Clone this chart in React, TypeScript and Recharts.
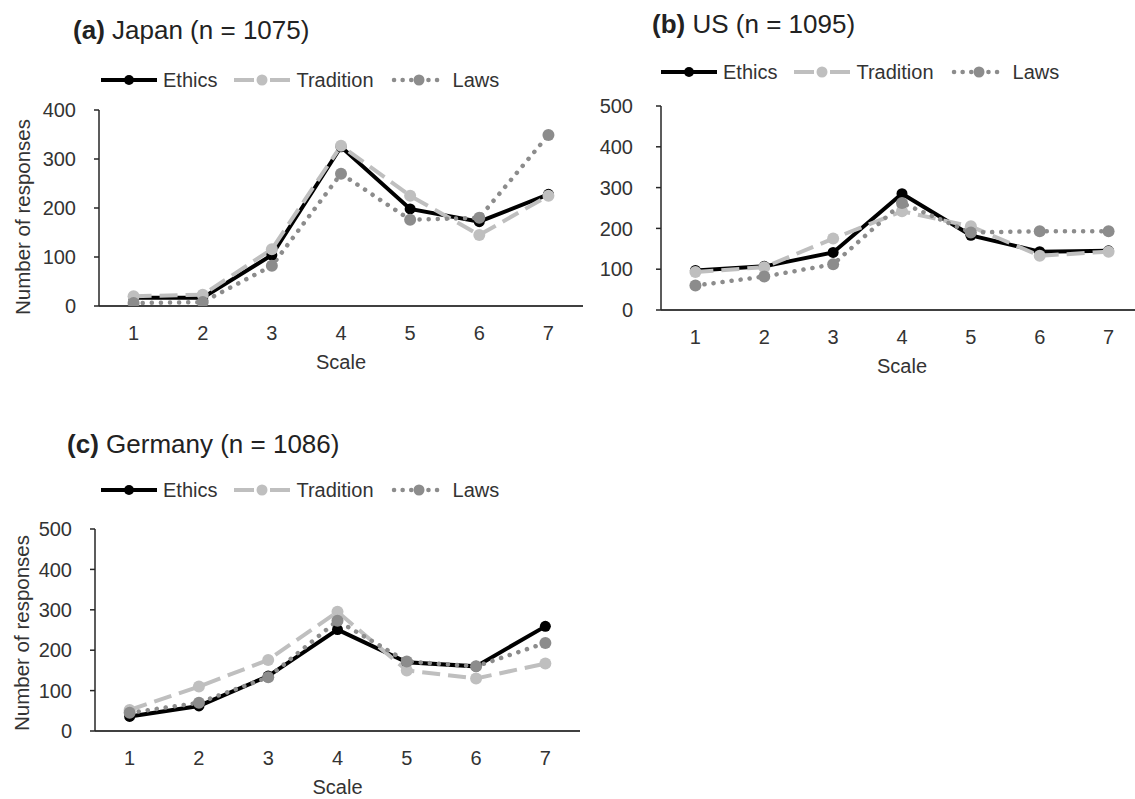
import React from 'react';
import { LineChart, Line, XAxis, YAxis } from 'recharts';

// scale points (1-7)
const scale = ['1', '2', '3', '4', '5', '6', '7'];

// (a) Japan
const ethicsJapan = [17, 17, 104, 325, 198, 172, 228];
const traditionJapan = [20, 23, 116, 327, 225, 145, 225];
const lawsJapan = [6, 8, 82, 270, 176, 180, 349];

// (b) US
const ethicsUS = [97, 107, 141, 285, 183, 143, 145];
const traditionUS = [93, 105, 175, 242, 205, 133, 143];
const lawsUS = [60, 82, 112, 262, 190, 193, 193];

// (c) Germany
const ethicsGermany = [36, 62, 136, 251, 170, 160, 259];
const traditionGermany = [52, 110, 176, 295, 150, 130, 167];
const lawsGermany = [45, 70, 133, 273, 172, 160, 218];

const ticksJapan = [0, 100, 200, 300, 400];
const ticksOther = [0, 100, 200, 300, 400, 500];

const FONT = '"Liberation Sans", Arial, sans-serif';
const TEXT = '#333333';

const series = [
  { key: 'ethics', name: 'Ethics', color: '#000000', width: 4, r: 5.5, dash: undefined as string | undefined },
  { key: 'tradition', name: 'Tradition', color: '#BFBFBF', width: 4, r: 6, dash: '18 8' },
  { key: 'laws', name: 'Laws', color: '#8C8C8C', width: 4.5, r: 6, dash: '0.1 9' },
];

type Cfg = {
  letter: string;
  country: string;
  n: number;
  left: number;
  top: number;
  width: number;
  height: number;
  plotLeft: number;
  plotRight: number;
  plotTop: number;
  plotBottom: number;
  tickGap: number;
  titleX: number;
  titleY: number;
  legendX: number;
  legendY: number;
  yLabel: boolean;
  yLabelX: number;
  yLabelY: number;
};

const X_AXIS_H = 60;

function LegendSymbol({ s }: { s: (typeof series)[number] }) {
  return (
    <svg width={56} height={14} style={{ display: 'block' }}>
      {s.key === 'ethics' && <line x1={0} x2={56} y1={7} y2={7} stroke={s.color} strokeWidth={4} />}
      {s.key === 'tradition' && (
        <>
          <line x1={0} x2={20} y1={7} y2={7} stroke={s.color} strokeWidth={4} />
          <line x1={36} x2={56} y1={7} y2={7} stroke={s.color} strokeWidth={4} />
        </>
      )}
      {s.key === 'laws' && (
        <line x1={3} x2={54} y1={7} y2={7} stroke={s.color} strokeWidth={4.5} strokeDasharray="0.1 8.5" strokeLinecap="round" />
      )}
      <circle cx={28} cy={7} r={s.r - 0.5} fill={s.color} />
    </svg>
  );
}

function Panel({ cfg, ethics, tradition, laws, ticks }: { cfg: Cfg; ethics: number[]; tradition: number[]; laws: number[]; ticks: number[] }) {
  const data = scale.map((s, i) => ({ scale: s, ethics: ethics[i], tradition: tradition[i], laws: laws[i] }));
  const pad = (cfg.plotRight - cfg.plotLeft) / 14;
  const yMax = ticks[ticks.length - 1];
  return (
    <>
      <div style={{ position: 'absolute', left: cfg.left, top: cfg.top, fontFamily: FONT }}>
        <LineChart
          width={cfg.width}
          height={cfg.height}
          data={data}
          margin={{
            top: cfg.plotTop - cfg.top,
            right: cfg.left + cfg.width - cfg.plotRight,
            bottom: cfg.top + cfg.height - cfg.plotBottom - X_AXIS_H,
            left: 0,
          }}
        >
          <XAxis
            dataKey="scale"
            height={X_AXIS_H}
            padding={{ left: pad, right: pad }}
            tickLine={false}
            axisLine={{ stroke: '#404040', strokeWidth: 2 }}
            tick={{ fill: TEXT, fontSize: 20 }}
            tickMargin={14}
            interval={0}
          />
          <YAxis
            width={cfg.plotLeft - cfg.left}
            domain={[0, yMax]}
            ticks={ticks}
            tickSize={5}
            tickMargin={cfg.tickGap}
            axisLine={{ stroke: '#262626', strokeWidth: 1.5 }}
            tickLine={{ stroke: '#262626', strokeWidth: 1.5 }}
            tick={{ fill: TEXT, fontSize: 20 }}
            allowDataOverflow
          />
          {series.map((s) => (
            <Line
              key={s.key}
              type="linear"
              dataKey={s.key}
              name={s.name}
              stroke={s.color}
              strokeWidth={s.width}
              strokeDasharray={s.dash}
              strokeLinecap={s.key === 'laws' ? 'round' : 'butt'}
              dot={{ r: s.r, fill: s.color, stroke: 'none', strokeWidth: 0 }}
              activeDot={false}
              isAnimationActive={false}
            />
          ))}
        </LineChart>
      </div>
      <div
        style={{
          position: 'absolute',
          left: cfg.legendX,
          top: cfg.legendY - 10,
          height: 20,
          display: 'flex',
          alignItems: 'center',
          fontFamily: FONT,
          fontSize: 20,
          lineHeight: '20px',
          color: TEXT,
          whiteSpace: 'nowrap',
        }}
      >
        {series.map((s) => (
          <div key={s.key} style={{ display: 'flex', alignItems: 'center', marginRight: 17 }}>
            <LegendSymbol s={s} />
            <span style={{ marginLeft: 6 }}>{s.name}</span>
          </div>
        ))}
      </div>
      <svg style={{ position: 'absolute', left: 0, top: 0, overflow: 'visible', pointerEvents: 'none' }} width={1} height={1}>
        <text x={cfg.titleX} y={cfg.titleY} fontFamily={FONT} fontSize={26} fill="#222">
          <tspan fontWeight="bold">({cfg.letter})</tspan>
          <tspan> {cfg.country} (n = {cfg.n})</tspan>
        </text>
        {cfg.yLabel && (
          <text
            x={cfg.yLabelX}
            y={cfg.yLabelY}
            transform={`rotate(-90 ${cfg.yLabelX} ${cfg.yLabelY})`}
            textAnchor="middle"
            fontFamily={FONT}
            fontSize={20.5}
            fill={TEXT}
          >
            Number of responses
          </text>
        )}
        <text x={(cfg.plotLeft + cfg.plotRight) / 2} y={cfg.plotBottom + 63} textAnchor="middle" fontFamily={FONT} fontSize={20} fill={TEXT}>
          Scale
        </text>
      </svg>
    </>
  );
}

const cfgJapan: Cfg = {
  letter: 'a', country: 'Japan', n: 1075,
  left: 0, top: 0, width: 600, height: 400,
  plotLeft: 99, plotRight: 583, plotTop: 110, plotBottom: 306,
  tickGap: 18, titleX: 73, titleY: 39, legendX: 101, legendY: 80,
  yLabel: true, yLabelX: 30, yLabelY: 217,
};

const cfgUS: Cfg = {
  letter: 'b', country: 'US', n: 1095,
  left: 560, top: 0, width: 600, height: 400,
  plotLeft: 661, plotRight: 1143, plotTop: 106, plotBottom: 310,
  tickGap: 23, titleX: 652, titleY: 33, legendX: 661, legendY: 72,
  yLabel: false, yLabelX: 0, yLabelY: 0,
};

const cfgGermany: Cfg = {
  letter: 'c', country: 'Germany', n: 1086,
  left: 0, top: 420, width: 600, height: 379,
  plotLeft: 95, plotRight: 580, plotTop: 529, plotBottom: 731,
  tickGap: 18, titleX: 67, titleY: 453, legendX: 101, legendY: 490,
  yLabel: true, yLabelX: 29, yLabelY: 633,
};

export default function App() {
  return (
    <div style={{ position: 'absolute', left: 0, top: 0, width: 1135, height: 799, overflow: 'hidden', background: '#fff' }}>
      <Panel cfg={cfgJapan} ethics={ethicsJapan} tradition={traditionJapan} laws={lawsJapan} ticks={ticksJapan} />
      <Panel cfg={cfgUS} ethics={ethicsUS} tradition={traditionUS} laws={lawsUS} ticks={ticksOther} />
      <Panel cfg={cfgGermany} ethics={ethicsGermany} tradition={traditionGermany} laws={lawsGermany} ticks={ticksOther} />
    </div>
  );
}
